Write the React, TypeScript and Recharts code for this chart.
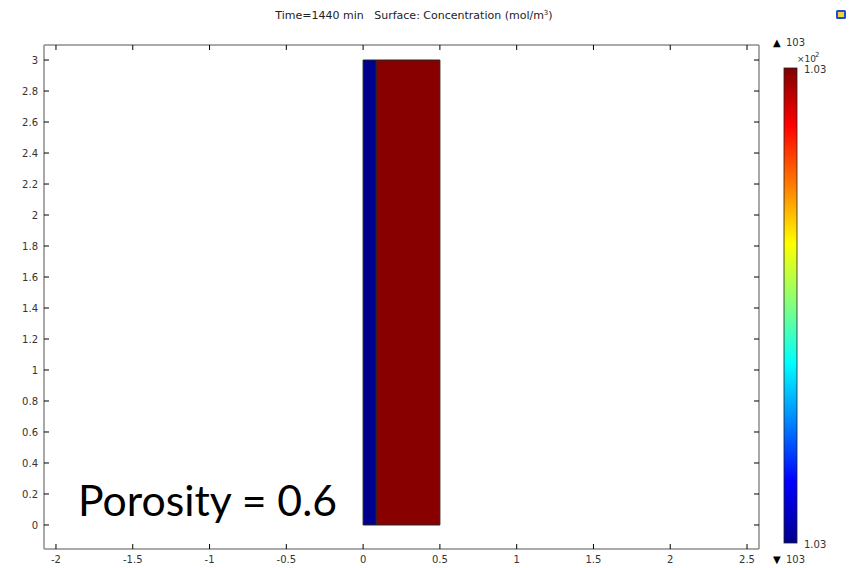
import React from 'react';
import {
  ComposedChart,
  XAxis,
  YAxis,
  Scatter,
  ReferenceArea,
  Customized,
} from 'recharts';

// domain rectangles (x from, x to, y from, y to) and their colours
const regionNames = ['left strip', 'bulk'];
const regionX0 = [0, 0.085];
const regionX1 = [0.085, 0.5];
const regionY0 = [0, 0];
const regionY1 = [3, 3];
const regionFill = ['#00008c', '#880000'];

const xTicks = [-2, -1.5, -1, -0.5, 0, 0.5, 1, 1.5, 2, 2.5];
const yTicks = [0, 0.2, 0.4, 0.6, 0.8, 1, 1.2, 1.4, 1.6, 1.8, 2, 2.2, 2.4, 2.6, 2.8, 3];

const colorMax = '1.03';
const colorMin = '1.03';
const rangeMax = '103';
const rangeMin = '103';

const W = 854;
const H = 568;
const TICK_FONT = 'DejaVu Sans, sans-serif';
const X_DOMAIN: [number, number] = [-2.078, 2.578];
const Y_DOMAIN: [number, number] = [-0.155, 3.097];
const FRAME = { stroke: '#8c8c8c', strokeWidth: 1.5 };

// corner points so the axes have data to work with
const corners = regionNames.flatMap((_, i) => [
  { x: regionX0[i], y: regionY0[i] },
  { x: regionX1[i], y: regionY1[i] },
]);

type TickProps = { x?: number; y?: number; payload?: { value: number } };

function BottomTick({ x = 0, y = 0, payload }: TickProps) {
  return (
    <g>
      <line x1={x} y1={y} x2={x} y2={y - 5} stroke="#000" strokeWidth={1} />
      <text x={x} y={y + 14} textAnchor="middle" fontSize={10} fontFamily={TICK_FONT} fill="#333">
        {payload?.value}
      </text>
    </g>
  );
}

function LeftTick({ x = 0, y = 0, payload }: TickProps) {
  return (
    <g>
      <line x1={x} y1={y} x2={x + 5} y2={y} stroke="#000" strokeWidth={1} />
      <text x={x - 6} y={y + 4} textAnchor="end" fontSize={10} fontFamily={TICK_FONT} fill="#333">
        {payload?.value}
      </text>
    </g>
  );
}

function TopTick({ x = 0, y = 0 }: TickProps) {
  return <line x1={x} y1={y} x2={x} y2={y + 5} stroke="#000" strokeWidth={1} />;
}

function RightTick({ x = 0, y = 0 }: TickProps) {
  return <line x1={x} y1={y} x2={x - 5} y2={y} stroke="#000" strokeWidth={1} />;
}

function ColorBar() {
  const x = 784;
  const top = 68;
  const bottom = 543;
  return (
    <g>
      <defs>
        <linearGradient id="jet" x1="0" y1="0" x2="0" y2="1">
          <stop offset="0%" stopColor="#800000" />
          <stop offset="12%" stopColor="#ff0000" />
          <stop offset="25%" stopColor="#ff8000" />
          <stop offset="37%" stopColor="#ffff00" />
          <stop offset="50%" stopColor="#80ff80" />
          <stop offset="62%" stopColor="#00ffff" />
          <stop offset="75%" stopColor="#0080ff" />
          <stop offset="87%" stopColor="#0000ff" />
          <stop offset="100%" stopColor="#00008f" />
        </linearGradient>
      </defs>
      <rect x={x} y={top} width={13} height={bottom - top} fill="url(#jet)" stroke="#222" strokeWidth={0.8} />
      <text x={773} y={46} fontSize={10} fontFamily={TICK_FONT} fill="#000">▲</text>
      <text x={786} y={46} fontSize={10} fontFamily={TICK_FONT} fill="#333">{rangeMax}</text>
      <text x={797} y={62} fontSize={9} fontFamily={TICK_FONT} fill="#333">×10</text>
      <text x={815} y={57} fontSize={7} fontFamily={TICK_FONT} fill="#333">2</text>
      <text x={804} y={73} fontSize={10} fontFamily={TICK_FONT} fill="#333">{colorMax}</text>
      <text x={804} y={548} fontSize={10} fontFamily={TICK_FONT} fill="#333">{colorMin}</text>
      <text x={773} y={563} fontSize={10} fontFamily={TICK_FONT} fill="#000">▼</text>
      <text x={786} y={563} fontSize={10} fontFamily={TICK_FONT} fill="#333">{rangeMin}</text>
      <rect x={836} y={10} width={10} height={9} rx={1.5} fill="#1a4fd0" />
      <rect x={838} y={12} width={6} height={5} fill="#f3d23a" />
    </g>
  );
}

export default function App() {
  return (
    <div style={{ position: 'absolute', left: 0, top: 0, width: W, height: H, background: '#fff' }}>
      <ComposedChart
        width={W}
        height={H}
        data={corners}
        margin={{ top: 44, right: 94, bottom: 0, left: 4 }}
      >
        <XAxis
          xAxisId={0}
          dataKey="x"
          type="number"
          domain={X_DOMAIN}
          ticks={xTicks}
          allowDataOverflow
          height={19}
          tickSize={0}
          tickMargin={0}
          tickLine={false}
          tick={<BottomTick />}
          axisLine={FRAME}
        />
        <XAxis
          xAxisId="top"
          dataKey="x"
          orientation="top"
          type="number"
          domain={X_DOMAIN}
          ticks={xTicks}
          allowDataOverflow
          height={1}
          tickSize={0}
          tickMargin={0}
          tickLine={false}
          tick={<TopTick />}
          axisLine={FRAME}
        />
        <YAxis
          yAxisId={0}
          dataKey="y"
          type="number"
          domain={Y_DOMAIN}
          ticks={yTicks}
          allowDataOverflow
          width={40}
          tickSize={0}
          tickMargin={0}
          tickLine={false}
          tick={<LeftTick />}
          axisLine={FRAME}
        />
        <YAxis
          yAxisId="right"
          dataKey="y"
          orientation="right"
          type="number"
          domain={Y_DOMAIN}
          ticks={yTicks}
          allowDataOverflow
          width={1}
          tickSize={0}
          tickMargin={0}
          tickLine={false}
          tick={<RightTick />}
          axisLine={FRAME}
        />
        <Scatter
          xAxisId={0}
          yAxisId={0}
          data={corners}
          dataKey="y"
          shape={() => <g />}
          isAnimationActive={false}
        />
        {regionNames.map((name, i) => (
          <ReferenceArea
            key={name}
            xAxisId={0}
            yAxisId={0}
            x1={regionX0[i]}
            x2={regionX1[i]}
            y1={regionY0[i]}
            y2={regionY1[i]}
            fill={regionFill[i]}
            fillOpacity={1}
            stroke="#222"
            strokeWidth={1}
            ifOverflow="visible"
          />
        ))}
        <Customized component={<ColorBar />} />
        <text
          x={414}
          y={19}
          textAnchor="middle"
          fontSize={11}
          fontFamily="DejaVu Sans, sans-serif"
          fill="#222"
          style={{ whiteSpace: 'pre' }}
        >
          {'Time=1440 min   Surface: Concentration (mol/m'}
          <tspan dy={-4} fontSize={7}>3</tspan>
          <tspan dy={4}>)</tspan>
        </text>
        <text
          x={78}
          y={516}
          fontSize={42}
          fontFamily="Lato, Open Sans, sans-serif"
          fill="#000"
          textLength={259}
          lengthAdjust="spacingAndGlyphs"
        >
          Porosity = 0.6
        </text>
      </ComposedChart>
    </div>
  );
}
